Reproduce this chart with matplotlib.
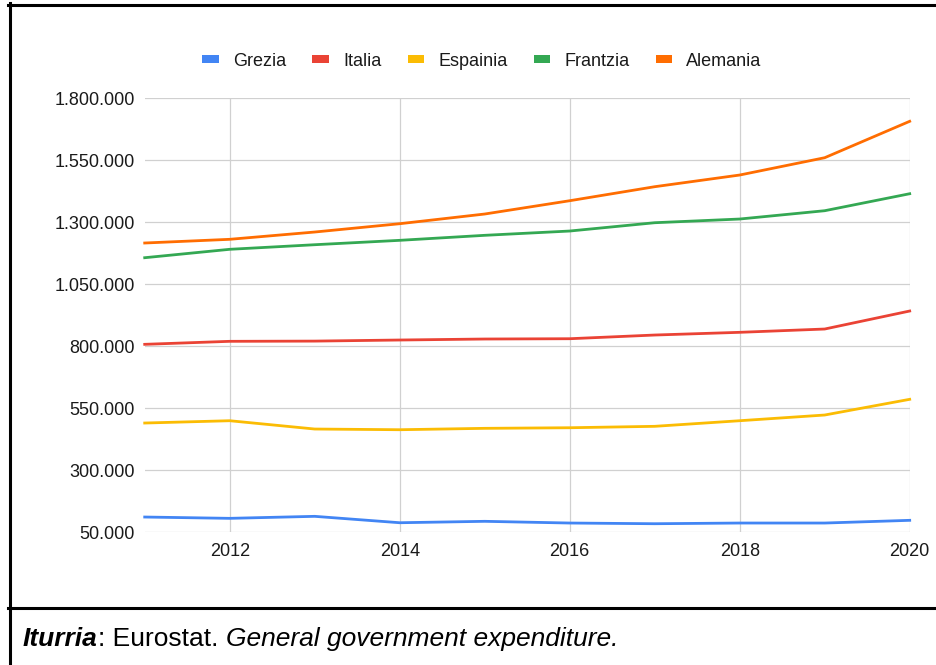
import matplotlib
matplotlib.use("Agg")
import matplotlib.pyplot as plt
from matplotlib.lines import Line2D
from matplotlib.patches import Patch
from matplotlib.ticker import FuncFormatter

plt.rcParams['font.family'] = ['Liberation Sans', 'DejaVu Sans']

years = [2011, 2012, 2013, 2014, 2015, 2016, 2017, 2018, 2019, 2020]

grezia = [111700, 106400, 114500, 88700, 94400, 87500, 84700, 87500, 87500, 98400]
italia = [808000, 820100, 821000, 825400, 829400, 830600, 845500, 856400, 869700, 942300]
espainia = [490700, 500000, 466500, 463700, 469300, 471700, 477400, 500000, 523000, 586300]
frantzia = [1157200, 1191100, 1209600, 1227300, 1247500, 1264800, 1298300, 1313200, 1346700, 1415200]
alemania = [1216500, 1231400, 1260800, 1294300, 1333400, 1387000, 1443500, 1490600, 1560400, 1707200]

names = ["Grezia", "Italia", "Espainia", "Frantzia", "Alemania"]
series = [grezia, italia, espainia, frantzia, alemania]
colors = ["#4285F4", "#EA4335", "#FBBC04", "#34A853", "#FF6D01"]

y_ticks = [50000, 300000, 550000, 800000, 1050000, 1300000, 1550000, 1800000]
x_ticks = [2012, 2014, 2016, 2018, 2020]

fig = plt.figure(figsize=(9.36, 6.65), dpi=100)
ax = fig.add_axes([0.1546, 0.1995, 0.8173, 0.6527])

for vals, col in zip(series, colors):
    ax.plot(years, vals, color=col, linewidth=2.0, clip_on=False, zorder=3)

ax.set_xlim(2011, 2020)
ax.set_ylim(50000, 1800000)
ax.set_yticks(y_ticks)
ax.set_xticks(x_ticks)
ax.yaxis.set_major_formatter(FuncFormatter(lambda v, p: f"{int(v):,}".replace(",", ".")))
ax.tick_params(axis='both', length=0, labelsize=13, colors='#1a1a1a')
ax.tick_params(axis='y', pad=7)
ax.tick_params(axis='x', pad=8)
ax.grid(True, color='#d0d0d0', linewidth=0.9)
for s in ax.spines.values():
    s.set_visible(False)

handles = [Patch(facecolor=c, edgecolor='none') for c in colors]
fig.legend(handles, names, loc='center', bbox_to_anchor=(482 / 936, 1 - 61 / 665),
           ncol=5, frameon=False, fontsize=13, handlelength=0.9, handleheight=0.33,
           handletextpad=0.8, columnspacing=1.45, labelcolor='#1a1a1a')

# frame around the chart
fig.add_artist(Line2D([8 / 936, 1], [1 - 4.7 / 665] * 2, transform=fig.transFigure,
                      color='black', linewidth=2.2))
fig.add_artist(Line2D([9.5 / 936] * 2, [0, 1 - 3.3 / 665], transform=fig.transFigure,
                      color='black', linewidth=2.2))
fig.add_artist(Line2D([8 / 936, 1], [1 - 607.5 / 665] * 2, transform=fig.transFigure,
                      color='black', linewidth=2.2))

# footer with mixed styles
base_y = 1 - 646 / 665
t1 = fig.text(23 / 936, base_y, "Iturria", fontsize=19, fontweight='bold',
              fontstyle='italic', va='baseline')
t2 = fig.text(0, 0, ": Eurostat. ", fontsize=19, va='baseline')
t3 = fig.text(0, 0, "General government expenditure.", fontsize=19, fontstyle='italic',
              va='baseline')
fig.canvas.draw()
r = fig.canvas.get_renderer()
x = t1.get_window_extent(r).x1 / fig.bbox.width
t2.set_position((x, base_y))
x = t2.get_window_extent(r).x1 / fig.bbox.width
t3.set_position((x, base_y))

fig.savefig("out.png", dpi=100)
